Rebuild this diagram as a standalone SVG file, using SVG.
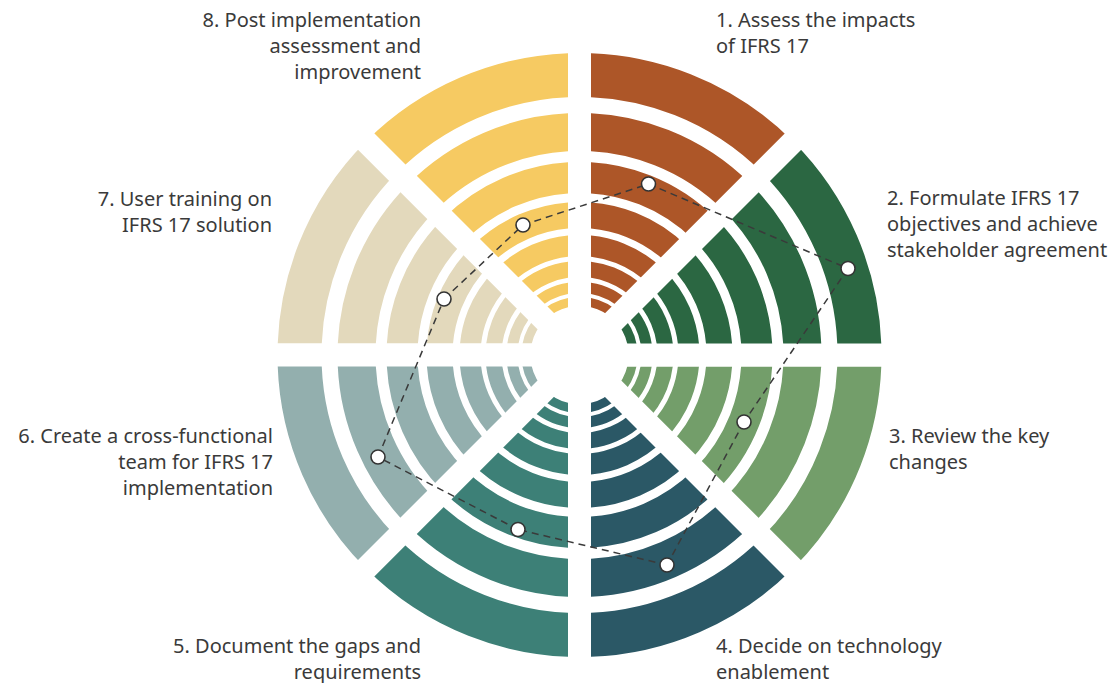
<svg xmlns="http://www.w3.org/2000/svg" xmlns:xlink="http://www.w3.org/1999/xlink" width="1110" height="683" viewBox="0 0 1110 683">
  <style>
    .lbl { font-family: "Noto Sans", "Open Sans", "Liberation Sans", sans-serif; font-size: 20px; fill: #3a3a3a; }
    .end { text-anchor: end; }
    .link { fill: none; stroke: #3a3a3a; stroke-width: 1.5; stroke-dasharray: 7 5; }
    .dot { fill: #ffffff; stroke: #333333; stroke-width: 1.6; }
  </style>
  <defs>
    <!-- one 45-degree slice (north to north-east) with 11.5px half-gaps on both edges -->
    <clipPath id="wedge">
      <polygon points="591,327.24 591,-45 854.2,64"/>
    </clipPath>
    <!-- concentric bands shared by every slice; stroke colour comes from the slice -->
    <g id="rings" fill="none">
      <circle cx="579.5" cy="355" r="53.5" stroke-width="9"/>
      <circle cx="579.5" cy="355" r="67.5" stroke-width="11"/>
      <circle cx="579.5" cy="355" r="86" stroke-width="16"/>
      <circle cx="579.5" cy="355" r="109.5" stroke-width="21"/>
      <circle cx="579.5" cy="355" r="140" stroke-width="26"/>
      <circle cx="579.5" cy="355" r="177.5" stroke-width="31"/>
      <circle cx="579.5" cy="355" r="223" stroke-width="38"/>
      <circle cx="579.5" cy="355" r="280" stroke-width="44"/>
    </g>
  </defs>

  <rect width="1110" height="683" fill="#ffffff"/>

  <g id="step-1">
    <g clip-path="url(#wedge)" stroke="#AD5628"><use xlink:href="#rings"/></g>
    <text class="lbl" x="716" y="27">1. Assess the impacts</text>
    <text class="lbl" x="716" y="53">of IFRS 17</text>
  </g>

  <g id="step-2">
    <g transform="rotate(45 579.5 355)" clip-path="url(#wedge)" stroke="#2B6742"><use xlink:href="#rings"/></g>
    <text class="lbl" x="887" y="205">2. Formulate IFRS 17</text>
    <text class="lbl" x="887" y="231">objectives and achieve</text>
    <text class="lbl" x="887" y="257">stakeholder agreement</text>
  </g>

  <g id="step-3">
    <g transform="rotate(90 579.5 355)" clip-path="url(#wedge)" stroke="#739E6A"><use xlink:href="#rings"/></g>
    <text class="lbl" x="889" y="443">3. Review the key</text>
    <text class="lbl" x="889" y="469">changes</text>
  </g>

  <g id="step-4">
    <g transform="rotate(135 579.5 355)" clip-path="url(#wedge)" stroke="#2B5866"><use xlink:href="#rings"/></g>
    <text class="lbl" x="716" y="653">4. Decide on technology</text>
    <text class="lbl" x="716" y="679">enablement</text>
  </g>

  <g id="step-5">
    <g transform="rotate(180 579.5 355)" clip-path="url(#wedge)" stroke="#3D8077"><use xlink:href="#rings"/></g>
    <text class="lbl end" x="421" y="653">5. Document the gaps and</text>
    <text class="lbl end" x="421" y="679">requirements</text>
  </g>

  <g id="step-6">
    <g transform="rotate(225 579.5 355)" clip-path="url(#wedge)" stroke="#93AFAE"><use xlink:href="#rings"/></g>
    <text class="lbl end" x="273" y="443">6. Create a cross-functional</text>
    <text class="lbl end" x="273" y="469">team for IFRS 17</text>
    <text class="lbl end" x="273" y="495">implementation</text>
  </g>

  <g id="step-7">
    <g transform="rotate(270 579.5 355)" clip-path="url(#wedge)" stroke="#E3D9BC"><use xlink:href="#rings"/></g>
    <text class="lbl end" x="272" y="206">7. User training on</text>
    <text class="lbl end" x="272" y="232">IFRS 17 solution</text>
  </g>

  <g id="step-8">
    <g transform="rotate(315 579.5 355)" clip-path="url(#wedge)" stroke="#F6CA62"><use xlink:href="#rings"/></g>
    <text class="lbl end" x="421" y="27">8. Post implementation</text>
    <text class="lbl end" x="421" y="53">assessment and</text>
    <text class="lbl end" x="421" y="79">improvement</text>
  </g>

  <!-- dashed path joining the milestone of each step -->
  <g id="connectors">
    <line class="link" x1="648.5" y1="184" x2="848" y2="268.5"/>
    <line class="link" x1="848" y1="268.5" x2="744" y2="422"/>
    <line class="link" x1="744" y1="422" x2="667" y2="565"/>
    <line class="link" x1="667" y1="565" x2="518" y2="529.5"/>
    <line class="link" x1="518" y1="529.5" x2="378" y2="457"/>
    <line class="link" x1="378" y1="457" x2="444" y2="299"/>
    <line class="link" x1="444" y1="299" x2="523" y2="225"/>
    <line class="link" x1="523" y1="225" x2="648.5" y2="184"/>
  </g>

  <g id="milestones">
    <circle class="dot" cx="648.5" cy="184" r="7"/>
    <circle class="dot" cx="848" cy="268.5" r="7"/>
    <circle class="dot" cx="744" cy="422" r="7"/>
    <circle class="dot" cx="667" cy="565" r="7"/>
    <circle class="dot" cx="518" cy="529.5" r="7"/>
    <circle class="dot" cx="378" cy="457" r="7"/>
    <circle class="dot" cx="444" cy="299" r="7"/>
    <circle class="dot" cx="523" cy="225" r="7"/>
  </g>
</svg>
